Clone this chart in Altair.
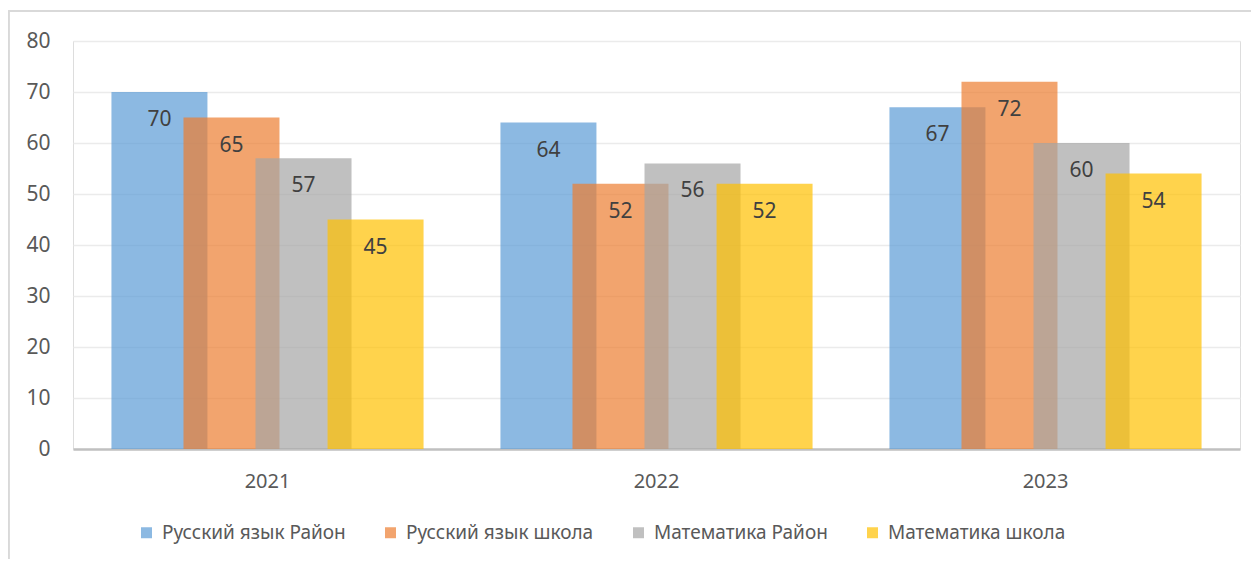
import altair as alt
import pandas as pd

years = ["2021", "2022", "2023"]
series = ["Русский язык Район", "Русский язык школа", "Математика Район", "Математика школа"]
colors = ["#5B9BD5", "#ED7D31", "#A5A5A5", "#FFC000"]
rus_rayon = [70, 64, 67]
rus_school = [65, 52, 72]
math_rayon = [57, 56, 60]
math_school = [45, 52, 54]

rows = []
for s, vals in zip(series, [rus_rayon, rus_school, math_rayon, math_school]):
    for y, v in zip(years, vals):
        rows.append({"year": y, "series": s, "value": v})
df = pd.DataFrame(rows)

FONT = "Noto Sans"

x_enc = alt.X("year:N", sort=years, title=None,
              scale=alt.Scale(paddingInner=0, paddingOuter=0),
              axis=alt.Axis(labelAngle=0, ticks=False, domainColor="#C0C0C0", domainWidth=2.5,
                            labelPadding=22, labelFontSize=20, labelColor="#595959", labelFont=FONT,
                            grid=False))
xo_enc = alt.XOffset("series:N", sort=series,
                     scale=alt.Scale(paddingInner=0, paddingOuter=0.7))
y_enc = alt.Y("value:Q", title=None,
              scale=alt.Scale(domain=[0, 80], nice=False),
              axis=alt.Axis(values=list(range(0, 81, 10)), ticks=False, domain=False,
                            labelPadding=23, labelFontSize=21, labelColor="#595959", labelFont=FONT,
                            gridColor="#EBEBEB", gridWidth=1.5))

bars = alt.Chart(df).mark_bar(width=96, opacity=0.7).encode(
    x=x_enc,
    xOffset=xo_enc,
    y=y_enc,
    color=alt.Color("series:N", sort=series,
                    scale=alt.Scale(domain=series, range=colors),
                    legend=alt.Legend(title=None, orient="none", legendX=64, legendY=482,
                                      direction="horizontal", symbolType="square",
                                      symbolSize=121, symbolStrokeWidth=0, symbolOpacity=0.7,
                                      labelFontSize=19, labelFont=FONT, labelColor="#595959",
                                      labelOffset=6, columnPadding=35, labelLimit=400)),
)

labels = alt.Chart(df).mark_text(dy=28, baseline="middle", fontSize=21, font=FONT,
                                 color="#404040").encode(
    x=x_enc,
    xOffset=xo_enc,
    y=y_enc,
    text="value:Q",
)

frame_top = alt.Chart(df).mark_rule(color="#D9D9D9", strokeWidth=1.5).encode(
    x=alt.value(-64.5), x2=alt.value(1250), y=alt.value(-30))
frame_left = alt.Chart(df).mark_rule(color="#D9D9D9", strokeWidth=1.5).encode(
    x=alt.value(-64.5), y=alt.value(-30), y2=alt.value(600))

chart = alt.layer(frame_top, frame_left, bars, labels).properties(
    width=1167, height=408,
    autosize=alt.AutoSizeParams(type="none"),
    padding={"left": 65, "top": 33, "right": 11, "bottom": 110},
).configure_view(stroke=None).configure(background="white")

chart.save("out.html", embed_options={"renderer": "svg", "actions": False})
